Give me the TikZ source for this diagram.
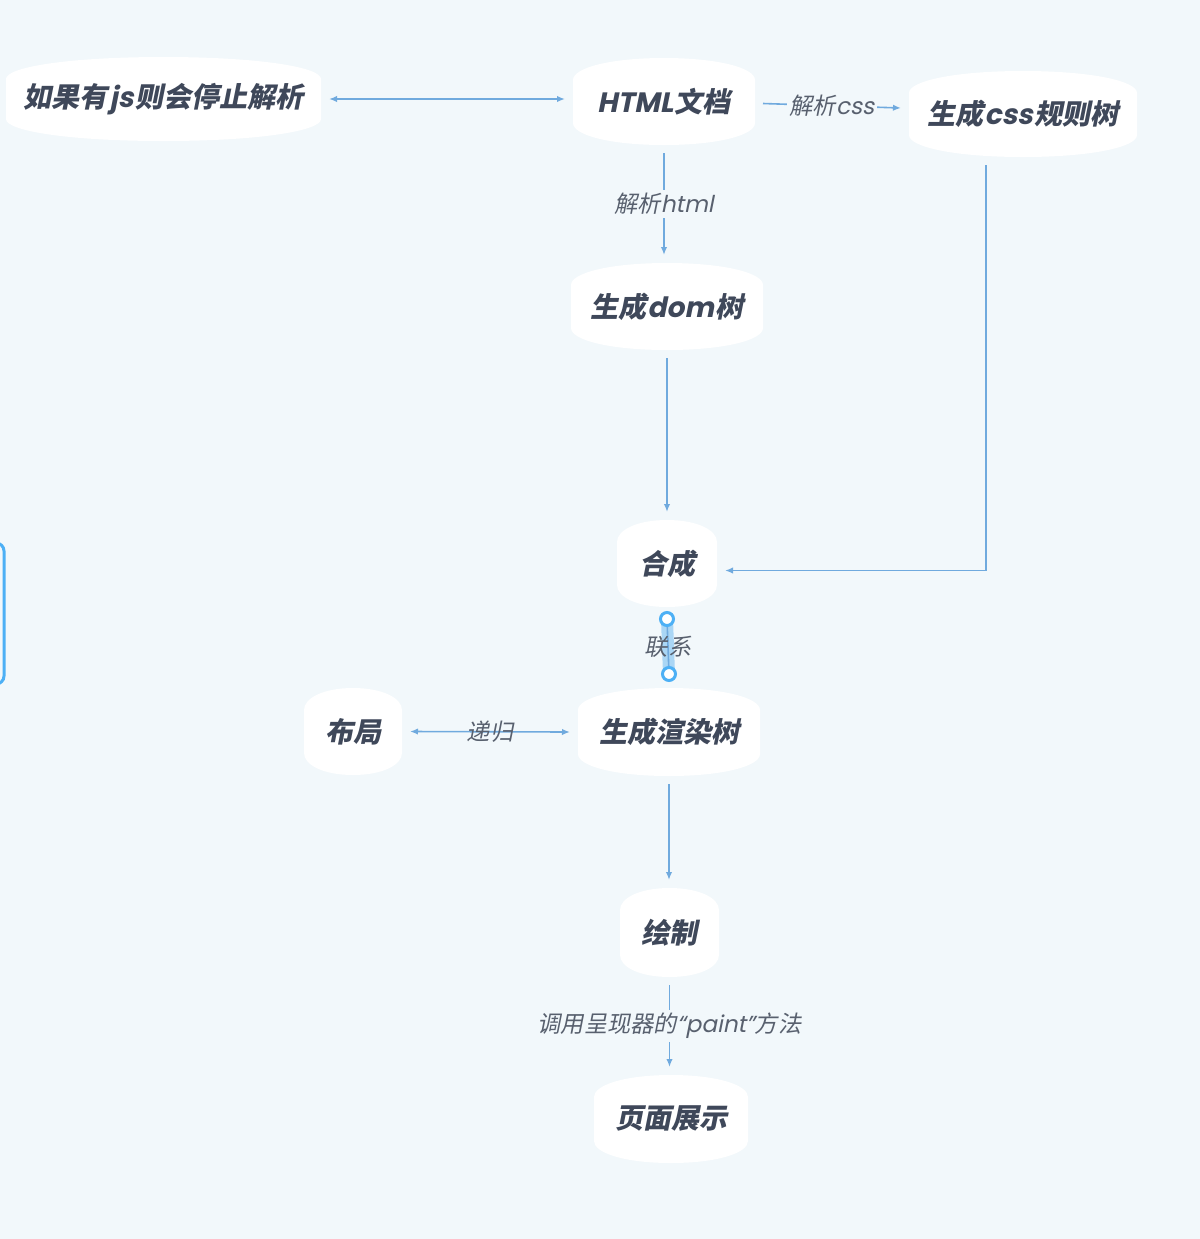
\documentclass[tikz,border=0pt]{standalone}
\usepackage{fontspec}
\usetikzlibrary{arrows.meta,calc}
\newfontfamily\cjk[FakeSlant=0.2]{Noto Sans CJK SC}
\newfontfamily\lat[FakeSlant=0.2]{Poppins}
\definecolor{bg}{RGB}{242,248,251}
\definecolor{txt}{RGB}{63,72,90}
\definecolor{lbl}{RGB}{88,96,110}
\definecolor{conn}{RGB}{112,170,222}
\definecolor{sel}{RGB}{77,176,245}
\definecolor{bar}{RGB}{170,214,245}
\tikzset{
  ntext/.style={inner sep=0pt, outer sep=4pt, text=txt, font=\cjk\bfseries\fontsize{14}{16}\selectfont},
  lbl/.style={text=lbl, font=\cjk\fontsize{11.6}{13}\selectfont, inner sep=1.5pt},
  lblbg/.style={lbl, fill=bg},
  conn/.style={draw=conn, line width=0.8pt, -{Latex[length=4pt,width=3.2pt]}},
  conn2/.style={draw=conn, line width=0.8pt, {Latex[length=4pt,width=3.2pt]}-{Latex[length=4pt,width=3.2pt]}},
}
\newcommand\blob[6]{%
  \fill[white] (#2,{#3+22})
    .. controls (#2,{#3+10}) and ({#2+0.2*(#4-#2)},#3) .. ({(#2+#4)/2},#3)
    .. controls ({#4-0.2*(#4-#2)},#3) and (#4,{#3+10}) .. (#4,{#3+22})
    -- (#4,{#5-22})
    .. controls (#4,{#5-10}) and ({#4-0.2*(#4-#2)},#5) .. ({(#2+#4)/2},#5)
    .. controls ({#2+0.2*(#4-#2)},#5) and (#2,{#5-10}) .. (#2,{#5-22})
    -- cycle;
  \node[ntext, minimum width={(#4-#2)*0.5pt}, minimum height={(#5-#3)*0.5pt}] (#1) at ({(#2+#4)/2},{(#3+#5)/2}) {#6};
}
\begin{document}
\begin{tikzpicture}[x=0.5pt,y=-0.5pt]
\fill[bg] (0,0) rectangle (1200,1239);
\useasboundingbox (0,0) rectangle (1200,1239);

% partial selection frame at the left border
\draw[sel, line width=1.5pt, rounded corners=4pt] (-100,543) rectangle (4,684);

\blob{js}{6}{57}{321}{141}{如果有\kern0.8pt{\lat js}\kern0.8pt则会停止解析}
\blob{html}{573}{58}{755}{145}{{\lat HTML}\kern0.8pt文档}
\blob{css}{909}{71}{1137}{157}{生成\kern0.5pt{\lat css}\kern0.8pt规则树}
\blob{dom}{571}{263}{763}{350}{生成\kern0.5pt{\lat dom}\kern0.8pt树}
\blob{hc}{617}{520}{717}{607}{合成}
\blob{bj}{304}{688}{402}{775}{布局}
\blob{xr}{578}{688}{760}{776}{生成渲染树}
\blob{hz}{620}{888}{719}{977}{绘制}
\blob{ym}{594}{1075}{748}{1163}{页面展示}

% connectors
\draw[conn2] (js.east) -- (js.east -| html.west);
\draw[conn] ([yshift=-1pt]html.east) -- node[lblbg]{解析{\lat css}} ([yshift=3pt]css.west);
\draw[conn] (html.south) -- node[lblbg]{解析{\lat html}} (html.south |- dom.north);
\draw[conn] (dom.south) -- (dom.south |- hc.north);
\draw[conn] ([xshift=-18.5pt]css.south) |- ([yshift=-3.5pt]hc.east);
\draw[conn2] (bj.east) -- node[lbl]{递归} (xr.west);
\draw[conn] (xr.south) -- (xr.south |- hz.north);
\draw[conn] (hz.south) -- node[lblbg]{调用呈现器的{\lat “paint”}方法} (hz.south |- ym.north);

% selected link between 合成 and 生成渲染树
\coordinate (c1) at ([yshift=-2pt]hc.south);
\coordinate (c2) at ([yshift=3pt]xr.north);
\draw[bar, line width=6pt] (c1) -- (c2);
\draw[conn, -] (c1) -- (c2);
\node[lbl] (lx) at ($(c1)!0.5!(c2)$) {联系};
\draw[sel, line width=1.5pt, fill=white] (c1) circle (6.5);
\draw[sel, line width=1.5pt, fill=white] (c2) circle (6.5);
\end{tikzpicture}
\end{document}
